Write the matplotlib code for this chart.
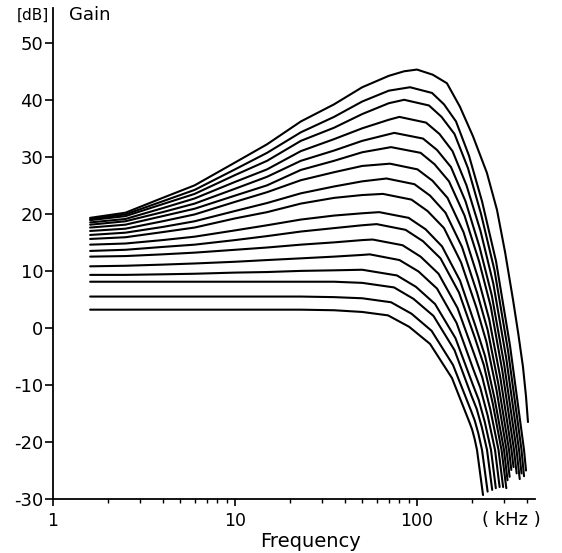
import matplotlib.pyplot as plt
from matplotlib.ticker import NullFormatter, LogLocator

plt.rcParams['axes.unicode_minus'] = False
plt.rcParams['font.family'] = 'DejaVu Sans'

# common low frequency points, kHz
freq_low = [1.6, 2.5, 4, 6, 10, 15, 23, 35, 50]

# gain [dB] of each curve at freq_low, top curve first
gain_low = [
    [19.3, 20.2, 22.8, 25.0, 29.0, 32.2, 36.2, 39.2, 42.2],
    [19.1, 19.9, 22.2, 24.2, 27.8, 30.7, 34.3, 37.0, 39.7],
    [18.9, 19.6, 21.7, 23.5, 26.8, 29.3, 32.8, 35.1, 37.5],
    [18.5, 19.1, 21.0, 22.7, 25.6, 27.8, 31.0, 33.1, 35.0],
    [18.1, 18.7, 20.3, 21.8, 24.4, 26.5, 29.3, 31.1, 32.8],
    [17.6, 18.1, 19.6, 20.9, 23.2, 25.0, 27.7, 29.3, 30.8],
    [17.0, 17.4, 18.7, 19.9, 22.1, 23.8, 25.9, 27.3, 28.4],
    [16.3, 16.7, 17.7, 18.7, 20.5, 21.9, 23.6, 24.8, 25.7],
    [15.6, 15.9, 16.8, 17.6, 19.2, 20.3, 21.8, 22.8, 23.3],
    [14.6, 14.8, 15.4, 16.0, 17.1, 18.0, 19.0, 19.7, 20.1],
    [13.5, 13.7, 14.2, 14.6, 15.4, 16.1, 16.9, 17.5, 18.0],
    [12.5, 12.6, 12.9, 13.2, 13.7, 14.1, 14.6, 15.0, 15.4],
    [10.8, 10.9, 11.1, 11.3, 11.6, 11.9, 12.2, 12.5, 12.8],
    [9.3, 9.3, 9.4, 9.5, 9.7, 9.8, 10.0, 10.1, 10.2],
    [8.1, 8.1, 8.1, 8.1, 8.1, 8.1, 8.1, 8.1, 7.9],
    [5.5, 5.5, 5.5, 5.5, 5.5, 5.5, 5.5, 5.4, 5.2],
    [3.2, 3.2, 3.2, 3.2, 3.2, 3.2, 3.2, 3.1, 2.8],
]

# peak and roll-off part of each curve (kHz / dB)
tail_freq = [
    [70, 85, 100, 122, 146, 172, 203, 242, 275, 305, 337, 360, 382, 397, 407],
    [70, 91.5, 120.9, 140.7, 163.8, 193.0, 227.6, 271.7, 324.3, 387.2, 397.1],
    [70, 85, 116.4, 136.4, 160.7, 190.6, 224.7, 266.5, 316.3, 375.1, 387.2],
    [70, 80, 112.1, 132.9, 156.7, 187.0, 223.3, 262.4, 309.1, 363.5, 375.1],
    [75, 107.9, 128.8, 153.7, 184.7, 220.5, 257.6, 301.2, 352.2, 366.7],
    [72, 104.6, 124.8, 149.9, 182.4, 219.1, 254.0, 294.2, 341.1, 352.7],
    [71, 100.6, 121.7, 147.1, 180.1, 216.3, 249.3, 286.9, 330.5, 339.0],
    [68, 96.8, 117.9, 143.4, 176.7, 213.6, 244.6, 279.7, 320.3, 329.7],
    [65, 93.2, 114.2, 140.7, 174.5, 212.3, 240.9, 273.4, 310.3, 322.7],
    [62, 89.9, 111.4, 137.2, 172.3, 209.6, 236.4, 266.5, 300.6, 314.2],
    [60, 86.5, 107.9, 134.6, 170.1, 208.3, 232.8, 260.5, 291.3, 309.5],
    [57, 83.3, 104.6, 131.3, 166.9, 205.6, 228.1, 252.8, 280.4, 297.2],
    [55, 80.1, 101.9, 128.8, 164.8, 203.0, 222.7, 244.6, 268.3, 284.3],
    [77.6, 98.7, 125.6, 162.7, 201.8, 218.2, 235.7, 255.0, 271.0],
    [74.8, 95.6, 123.2, 160.7, 199.2, 212.8, 227.0, 242.5, 258.9],
    [72.0, 93.2, 120.2, 157.7, 198.0, 207.4, 217.2, 227.6, 244.3],
    [69.3, 90.5, 117.9, 155.7, 195.5, 201.2, 207.4, 213.6, 230.5],
]
tail_gain = [
    [44.2, 45.0, 45.3, 44.4, 42.9, 38.8, 33.6, 27.2, 20.7, 13.2, 4.9, -1.0, -6.8, -12.0, -16.5],
    [41.6, 42.2, 41.2, 39.2, 36.2, 30.2, 22.2, 11.7, -3.1, -21.4, -25.0],
    [39.4, 40.0, 39.0, 37.0, 34.0, 28.0, 20.0, 10.1, -4.0, -21.4, -26.0],
    [36.5, 37.0, 36.0, 34.0, 31.0, 25.0, 17.0, 7.8, -5.3, -21.4, -25.5],
    [34.2, 33.2, 31.2, 28.2, 22.2, 14.2, 5.7, -6.4, -21.4, -26.5],
    [31.7, 30.7, 28.7, 25.7, 19.7, 11.7, 3.8, -7.5, -21.4, -25.5],
    [28.8, 27.8, 25.8, 22.8, 16.8, 8.8, 1.5, -8.7, -21.4, -24.4],
    [26.2, 25.2, 23.2, 20.2, 14.2, 6.2, -0.4, -9.8, -21.4, -24.9],
    [23.5, 22.5, 20.5, 17.5, 11.5, 3.5, -2.5, -10.9, -21.4, -26.1],
    [20.3, 19.3, 17.3, 14.3, 8.3, 0.3, -4.9, -12.3, -21.4, -26.7],
    [18.2, 17.2, 15.2, 12.2, 6.2, -1.8, -6.5, -13.2, -21.4, -28.1],
    [15.5, 14.5, 12.5, 9.5, 3.5, -4.5, -8.6, -14.3, -21.4, -27.9],
    [12.9, 11.9, 9.9, 6.9, 0.9, -7.1, -10.5, -15.4, -21.4, -27.9],
    [9.2, 7.2, 4.2, -1.8, -9.8, -12.6, -16.5, -21.4, -28.1],
    [7.1, 5.1, 2.1, -3.9, -11.9, -14.2, -17.4, -21.4, -28.4],
    [4.5, 2.5, -0.5, -6.5, -14.5, -16.2, -18.5, -21.4, -28.7],
    [2.2, 0.2, -2.8, -8.8, -16.8, -17.9, -19.5, -21.4, -29.3],
]

y_ticks = [-30, -20, -10, 0, 10, 20, 30, 40, 50]
x_ticks = [1, 10, 100]
x_tick_labels = ['1', '10', '100']

fig = plt.figure(figsize=(5.62, 5.53), dpi=100)
ax = fig.add_axes([0.0943, 0.0976, 0.8577, 0.888])

for g_low, f_tail, g_tail in zip(gain_low, tail_freq, tail_gain):
    ax.plot(freq_low + f_tail, g_low + g_tail, color='black', linewidth=1.5,
            solid_capstyle='round', solid_joinstyle='round')

ax.set_xscale('log')
ax.set_xlim(1, 445)
ax.set_ylim(-30, 56.1)
ax.spines['top'].set_visible(False)
ax.spines['right'].set_visible(False)
ax.spines['left'].set_linewidth(1.3)
ax.spines['bottom'].set_linewidth(1.3)

ax.set_yticks(y_ticks)
ax.set_yticklabels([str(v) for v in y_ticks], fontsize=13)
ax.set_xticks(x_ticks)
ax.set_xticklabels(x_tick_labels, fontsize=12.5)
ax.xaxis.set_minor_locator(LogLocator(base=10, subs=range(2, 10)))
ax.xaxis.set_minor_formatter(NullFormatter())
ax.tick_params(axis='y', direction='out', length=6, width=1.2, pad=1)
ax.tick_params(axis='x', which='major', direction='out', length=5, width=1.2, pad=4)
ax.tick_params(axis='x', which='minor', direction='out', length=3, width=1.0)

fig.text(0.553, 0.020, 'Frequency', fontsize=14, ha='center', va='center')
fig.text(0.030, 0.972, '[dB]', fontsize=11, ha='left', va='center')
fig.text(0.122, 0.972, 'Gain', fontsize=13, ha='left', va='center')
fig.text(0.858, 0.060, '( kHz )', fontsize=13, ha='left', va='center')

fig.savefig('out.png', dpi=100)
